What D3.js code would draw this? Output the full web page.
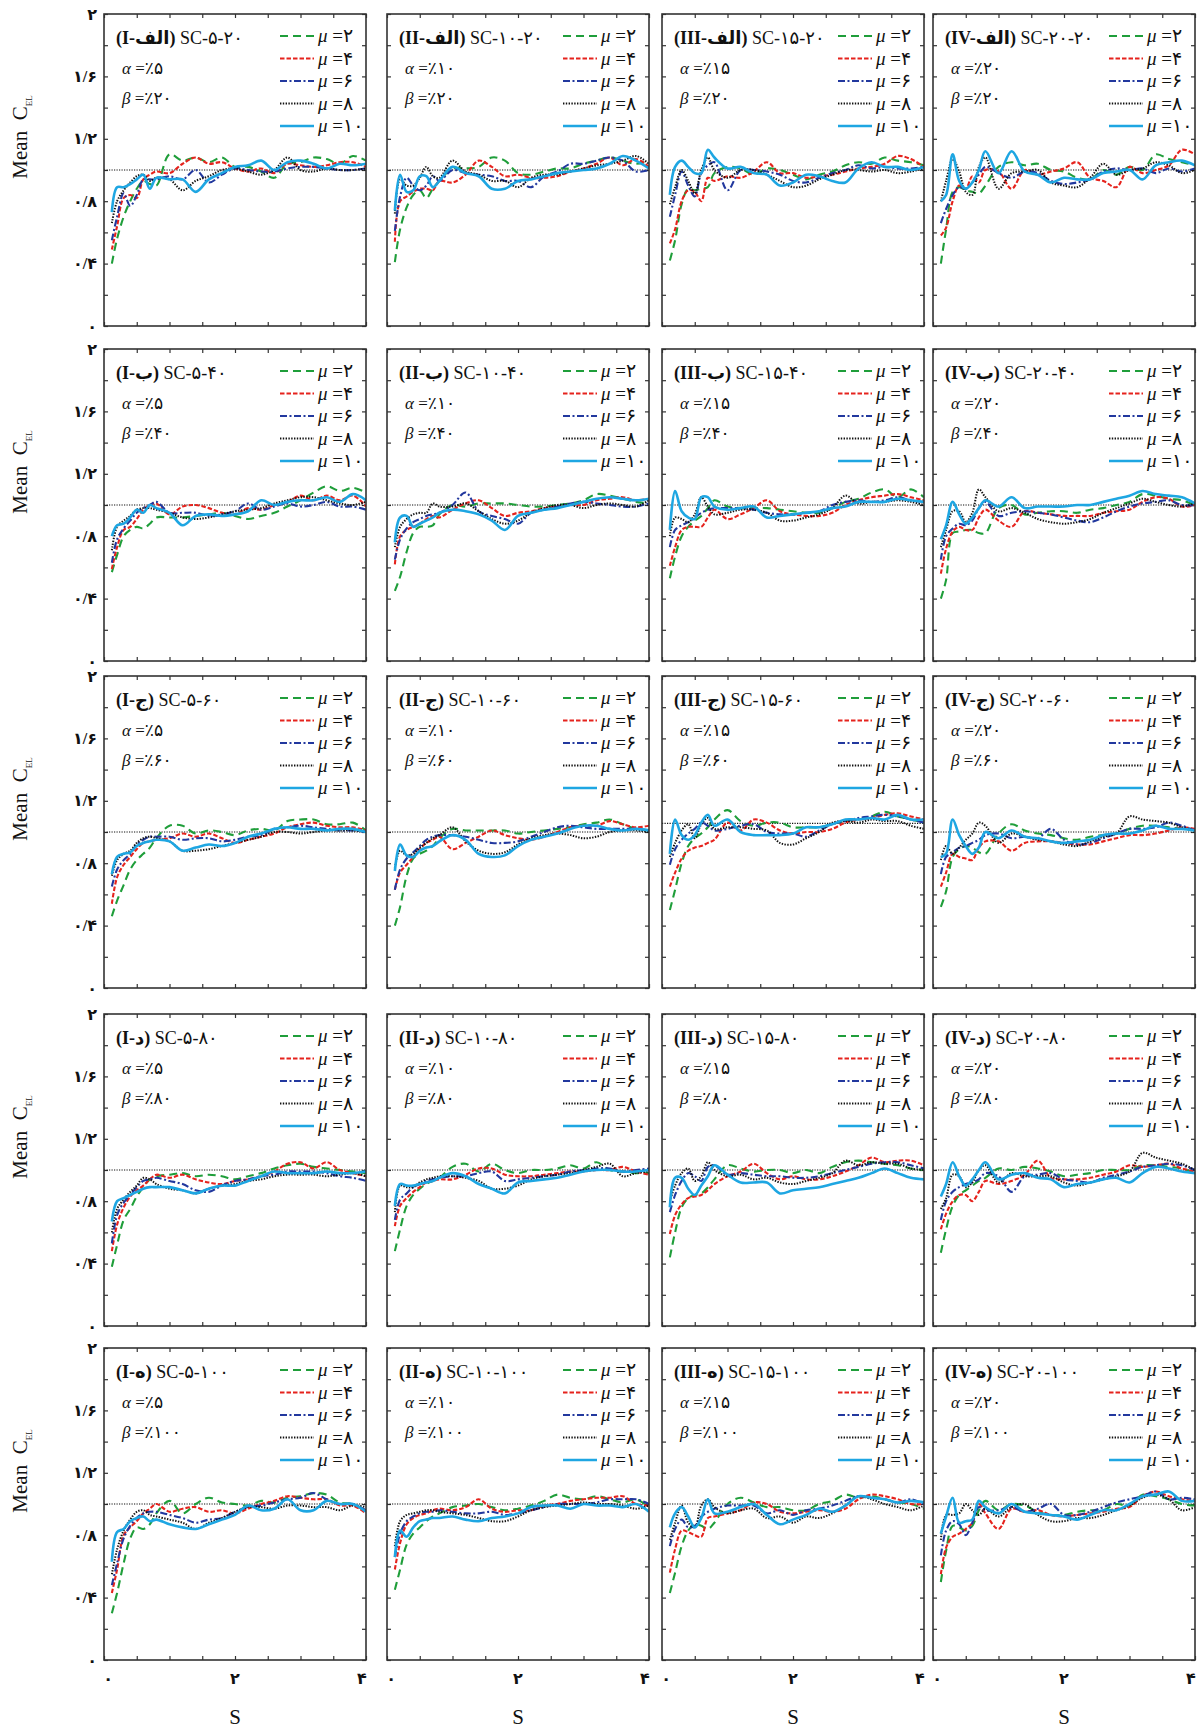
<!DOCTYPE html>
<html>
<head>
<meta charset="utf-8">
<script src="https://cdn.jsdelivr.net/npm/d3@7"></script>
<style>
  body { margin: 0; background: #fff; }
  svg text { font-family: 'Liberation Serif', 'DejaVu Sans', serif; fill: #111; }
</style>
</head>
<body>
<div id="chart"></div>
<script>
// x positions shared by every series (S)
var xs = [0.12,0.2,0.3,0.4,0.5,0.6,0.7,0.8,1.0,1.2,1.4,1.6,1.8,2.0,2.2,2.4,2.6,2.8,3.0,3.2,3.4,3.6,3.8,4.0];
var mus = [2, 4, 6, 8, 10];
var colNames = ['I', 'II', 'III', 'IV'];
var rowLetters = ['الف', 'ب', 'ج', 'د', 'ه'];
var alphas = [5, 10, 15, 20];
var betas = [20, 40, 60, 80, 100];
var yTickVals = [0, 0.4, 0.8, 1.2, 1.6, 2];
var yTickLabels = ['۰', '۰/۴', '۰/۸', '۱/۲', '۱/۶', '۲'];
var xTickVals = [0, 2, 4];
var xTickLabels = ['۰', '۲', '۴'];
// dotted reference level per panel (rows x cols)
var refLines = [[1,1,1,1],[1,1,1,1],[1,1,1.055,1],[1,1,1,1],[1,1,1,1]];

// each panel: [mu=2, mu=4, mu=6, mu=8, mu=10]
var SC_5_20 = [
  [0.40,0.56,0.70,0.80,0.88,0.93,0.91,0.90,1.10,1.06,1.08,1.05,1.08,1.02,1.02,0.99,0.95,1.04,1.05,1.08,1.07,1.04,1.09,1.06],
  [0.49,0.64,0.82,0.84,0.82,0.94,0.97,0.99,0.98,1.04,1.08,1.04,1.05,1.01,0.99,1.01,0.98,1.04,1.03,1.02,1.03,1.05,1.05,1.02],
  [0.55,0.70,0.85,0.77,0.84,0.94,0.94,0.94,0.96,0.94,1.00,0.92,0.97,1.01,1.00,0.99,0.99,1.01,1.02,1.02,1.01,1.00,1.00,1.01],
  [0.66,0.80,0.87,0.92,0.96,0.97,0.93,0.95,0.94,0.87,0.93,0.96,1.00,1.01,0.99,0.97,1.00,1.08,1.00,0.99,1.01,1.00,1.00,1.01],
  [0.73,0.89,0.89,0.91,0.94,0.97,0.88,0.95,0.94,0.94,0.86,0.94,0.98,1.02,1.03,1.06,1.00,1.05,1.06,1.04,1.01,1.04,1.03,1.04]];
var SC_10_20 = [
  [0.41,0.62,0.76,0.84,0.87,0.82,0.88,0.93,1.01,1.01,1.02,1.08,1.06,0.98,0.97,0.99,1.01,1.01,1.04,1.06,1.08,1.06,1.04,1.06],
  [0.54,0.80,0.83,0.86,0.88,0.88,0.87,0.93,0.92,0.97,1.06,1.02,0.96,0.97,0.95,0.95,0.96,0.99,1.01,1.04,1.08,1.03,1.07,1.02],
  [0.61,0.83,0.95,0.90,0.87,0.90,0.96,0.93,1.00,0.98,0.97,0.96,0.93,0.93,0.89,0.96,0.99,1.04,1.04,1.06,1.08,1.06,0.99,1.00],
  [0.72,0.94,0.90,0.90,0.95,1.02,0.96,0.95,1.06,0.99,0.97,0.93,0.93,0.89,0.95,0.97,0.97,0.99,1.01,1.03,1.04,1.06,1.09,1.04],
  [0.74,0.97,0.86,0.87,0.96,0.96,0.89,0.93,1.02,0.98,0.96,0.88,0.88,0.93,0.94,0.96,0.98,0.99,1.00,1.01,1.04,1.09,1.06,1.01]];
var SC_15_20 = [
  [0.42,0.55,0.78,0.88,0.87,0.88,0.89,0.98,1.02,1.01,0.97,1.01,1.00,0.97,0.94,0.97,0.99,1.03,1.05,1.04,1.08,1.06,1.05,1.03],
  [0.53,0.62,0.80,0.87,0.86,0.80,0.95,0.93,0.96,0.95,0.99,1.05,0.98,0.98,0.95,0.96,0.97,0.99,1.01,1.02,1.04,1.09,1.07,1.02],
  [0.70,0.84,0.99,0.90,0.83,0.98,1.03,1.05,0.87,1.00,1.00,0.99,0.97,0.93,0.92,0.95,0.98,1.00,1.03,1.01,1.02,1.01,1.01,1.02],
  [0.78,0.89,1.00,0.93,0.85,1.00,1.08,1.00,0.95,1.00,1.00,0.97,0.93,0.89,0.90,0.94,0.97,1.00,1.00,0.99,1.00,0.98,0.99,1.01],
  [0.84,1.02,1.06,1.02,0.98,0.98,1.13,1.08,1.01,1.02,0.98,0.97,0.90,0.92,0.97,0.96,0.93,0.92,1.01,1.05,1.02,1.02,1.00,1.02]];
var SC_20_20 = [
  [0.40,0.62,0.86,0.89,0.87,0.86,0.85,0.90,1.02,1.05,1.03,1.04,1.00,0.99,0.95,0.94,1.00,0.97,1.02,1.00,1.10,1.07,1.05,1.03],
  [0.58,0.63,0.80,0.90,0.88,0.96,0.92,1.00,0.99,0.88,1.00,0.97,0.99,1.01,1.05,0.95,0.93,0.89,1.02,0.98,1.00,1.03,1.13,1.10],
  [0.66,0.75,0.84,0.89,0.88,0.92,0.97,1.02,0.98,0.95,0.99,0.98,0.93,0.91,0.92,0.94,0.99,1.01,1.00,1.01,0.98,1.01,0.99,1.01],
  [0.80,0.93,1.07,0.99,0.86,0.84,1.02,1.08,0.88,0.98,0.99,1.00,0.92,0.90,0.89,0.95,1.04,0.97,1.00,1.01,1.05,1.03,0.98,1.00],
  [0.80,0.84,1.10,0.93,0.88,0.92,1.00,1.12,0.98,1.12,0.99,0.97,0.92,0.95,0.94,0.94,0.98,0.99,1.00,0.94,1.03,1.05,1.06,1.03]];

var SC_5_40 = [
  [0.57,0.68,0.80,0.84,0.86,0.85,0.88,0.92,0.92,0.92,0.93,0.94,0.95,0.93,0.91,0.93,0.95,0.99,1.03,1.08,1.12,1.09,1.11,1.08],
  [0.59,0.73,0.84,0.86,0.91,0.97,1.00,1.01,0.94,0.99,1.00,0.98,0.95,0.94,0.98,0.97,1.00,1.02,1.06,1.03,1.06,1.03,1.06,0.99],
  [0.63,0.78,0.85,0.90,0.95,0.98,1.00,1.02,0.95,0.95,0.95,0.93,0.94,0.96,1.01,0.97,0.99,1.01,0.99,1.00,1.02,0.99,0.99,0.97],
  [0.71,0.86,0.90,0.93,0.97,0.98,0.98,0.97,0.95,0.92,0.91,0.92,0.94,0.96,0.97,0.98,1.01,1.03,1.05,1.05,1.03,1.01,1.00,1.02],
  [0.80,0.87,0.88,0.92,0.97,0.95,1.00,0.98,0.95,0.87,0.93,0.94,0.93,0.94,0.96,1.03,1.00,1.02,1.03,1.03,1.05,1.02,1.07,1.03]];
var SC_10_40 = [
  [0.45,0.54,0.70,0.82,0.86,0.86,0.87,0.94,1.00,0.99,1.01,1.01,1.01,1.00,0.99,0.99,1.00,1.01,1.03,1.07,1.06,1.04,1.02,1.01],
  [0.62,0.80,0.84,0.86,0.88,0.91,0.93,0.92,0.97,1.01,1.03,0.98,0.93,0.95,0.96,0.98,0.99,1.00,1.00,1.03,1.04,1.05,1.03,1.04],
  [0.65,0.78,0.85,0.89,0.91,0.93,0.94,0.95,1.00,1.08,0.96,0.93,0.91,0.88,0.95,0.97,0.99,1.01,1.02,1.01,1.00,0.99,0.99,1.01],
  [0.73,0.86,0.91,0.94,0.95,0.95,1.01,0.99,0.99,1.01,0.96,0.91,0.88,0.90,0.95,0.98,1.00,1.00,0.98,1.00,1.01,1.00,0.99,1.03],
  [0.76,0.92,0.93,0.86,0.88,0.90,0.92,0.95,0.97,0.96,0.94,0.90,0.84,0.93,0.95,0.97,0.98,1.00,1.02,1.04,1.05,1.04,1.03,1.04]];
var SC_15_40 = [
  [0.53,0.67,0.80,0.86,0.90,0.93,0.98,1.03,0.99,0.98,0.98,0.98,0.97,0.96,0.95,0.95,0.98,1.02,1.04,1.08,1.10,1.05,1.10,1.05],
  [0.61,0.73,0.84,0.86,0.86,0.86,0.92,0.97,0.91,0.94,0.98,1.03,0.96,0.94,0.93,0.93,0.95,1.00,1.03,1.05,1.06,1.07,1.05,1.03],
  [0.73,0.84,0.87,0.89,0.92,0.95,0.97,0.98,0.98,0.98,0.97,0.95,0.94,0.94,0.95,0.96,1.00,1.02,1.03,1.02,1.03,1.05,1.03,1.02],
  [0.80,0.92,0.91,0.89,0.94,1.05,0.99,0.94,0.95,0.97,0.97,0.95,0.90,0.90,0.92,0.94,0.98,1.06,1.01,1.02,1.02,1.03,1.02,1.00],
  [0.84,1.09,0.96,0.92,0.91,1.05,1.05,0.99,0.97,0.98,0.99,0.92,0.93,0.94,0.95,0.96,0.98,0.99,1.02,1.02,1.02,1.04,1.03,1.02]];
var SC_20_40 = [
  [0.40,0.52,0.82,0.83,0.84,0.84,0.82,0.82,0.98,1.00,0.94,0.95,0.96,0.96,0.95,0.97,0.98,1.00,1.02,1.07,1.06,1.04,1.03,1.00],
  [0.56,0.72,0.83,0.86,0.84,0.84,0.92,0.97,0.90,0.86,0.96,0.95,0.94,0.93,0.93,0.93,0.95,0.96,0.97,1.02,1.05,1.04,0.99,1.00],
  [0.65,0.80,0.85,0.88,0.87,0.90,0.98,1.02,0.93,0.95,0.96,0.95,0.94,0.92,0.90,0.89,0.92,0.96,0.99,1.01,1.02,1.03,1.00,1.00],
  [0.73,0.84,0.96,0.96,0.89,0.95,1.10,1.05,0.96,0.98,0.95,0.91,0.89,0.88,0.89,0.91,0.95,0.98,1.01,1.04,1.02,1.00,0.99,1.01],
  [0.78,0.87,1.02,0.94,0.88,0.92,0.98,1.03,0.99,1.05,0.98,0.99,0.99,0.99,1.00,1.00,1.02,1.04,1.06,1.09,1.07,1.06,1.05,1.01]];

var SC_5_60 = [
  [0.46,0.56,0.66,0.76,0.82,0.86,0.90,0.96,1.04,1.04,0.99,1.01,1.00,0.98,1.01,1.02,1.01,1.07,1.08,1.08,1.05,1.05,1.06,1.01],
  [0.54,0.71,0.79,0.84,0.89,0.93,0.94,0.95,0.96,0.99,0.97,0.99,0.96,0.93,0.95,0.97,0.99,1.03,1.05,1.06,1.04,1.03,1.03,1.01],
  [0.65,0.76,0.82,0.86,0.92,0.95,0.97,0.97,0.97,0.95,0.96,0.96,0.94,0.95,0.97,0.98,1.02,1.03,1.04,1.03,1.02,1.01,1.01,1.00],
  [0.72,0.82,0.86,0.88,0.93,0.96,0.97,0.96,0.94,0.88,0.88,0.89,0.91,0.93,0.95,0.97,1.00,1.00,0.99,1.00,1.01,1.01,1.01,1.00],
  [0.73,0.84,0.86,0.87,0.91,0.93,0.94,0.95,0.94,0.88,0.90,0.92,0.91,0.93,0.97,0.99,1.02,1.03,1.02,1.02,1.01,1.02,1.02,1.00]];
var SC_10_60 = [
  [0.40,0.52,0.72,0.83,0.86,0.88,0.91,0.96,1.02,1.01,1.01,1.01,1.01,0.99,1.00,1.01,1.02,1.03,1.05,1.06,1.08,1.05,1.02,1.01],
  [0.63,0.74,0.79,0.84,0.89,0.93,0.95,0.97,0.89,0.93,0.97,1.01,0.98,0.96,0.95,0.97,1.00,1.03,1.04,1.04,1.07,1.05,1.03,1.04],
  [0.63,0.76,0.83,0.87,0.91,0.95,0.97,0.98,0.98,0.97,0.95,0.93,0.93,0.94,0.97,1.00,1.03,1.04,1.03,1.02,1.02,1.02,1.02,1.01],
  [0.77,0.88,0.85,0.86,0.90,0.93,0.96,0.98,1.03,0.94,0.88,0.86,0.87,0.92,0.96,0.98,0.99,0.98,0.96,0.97,1.00,1.01,1.01,1.00],
  [0.75,0.92,0.85,0.84,0.88,0.90,0.91,0.94,0.98,0.95,0.86,0.84,0.85,0.91,0.95,0.97,0.99,1.02,1.04,1.04,1.02,1.01,1.02,1.01]];
var SC_15_60 = [
  [0.50,0.63,0.80,0.91,0.96,0.99,1.03,1.08,1.14,1.07,1.04,1.06,1.06,1.03,1.03,1.03,1.05,1.07,1.08,1.10,1.13,1.10,1.08,1.06],
  [0.65,0.74,0.83,0.88,0.90,0.91,0.93,0.95,1.06,1.01,1.08,1.06,1.01,0.99,1.00,1.00,1.02,1.06,1.08,1.09,1.11,1.12,1.10,1.08],
  [0.79,0.89,0.95,0.99,1.02,1.06,1.04,1.01,1.02,1.04,1.05,1.00,0.99,0.99,0.97,1.01,1.05,1.07,1.09,1.10,1.11,1.10,1.08,1.06],
  [0.84,0.93,1.01,1.05,0.96,1.05,1.09,1.02,1.03,1.03,1.02,1.01,0.93,0.92,0.96,1.00,1.06,1.07,1.06,1.08,1.07,1.07,1.04,1.02],
  [0.86,1.08,0.98,0.95,0.98,1.06,1.11,1.04,1.08,1.00,0.98,0.98,0.98,0.99,1.03,1.03,1.05,1.08,1.08,1.09,1.08,1.11,1.08,1.08]];
var SC_20_60 = [
  [0.52,0.62,0.84,0.89,0.91,0.90,0.87,0.86,0.99,1.05,1.01,0.99,0.98,0.96,0.95,0.97,0.98,0.99,1.02,1.04,1.04,1.03,1.02,1.01],
  [0.65,0.74,0.86,0.84,0.83,0.82,0.90,0.94,0.94,0.88,0.93,0.94,0.94,0.93,0.92,0.92,0.94,0.96,0.98,0.98,0.99,1.01,1.03,1.02],
  [0.73,0.84,0.87,0.90,0.91,0.93,0.95,0.98,0.99,0.96,0.97,0.96,1.02,0.95,0.92,0.93,0.96,0.99,1.02,1.02,1.03,1.06,1.04,1.01],
  [0.82,0.91,0.86,0.90,0.95,0.99,1.06,1.04,0.93,0.99,0.97,0.95,0.94,0.92,0.91,0.94,0.97,0.99,1.10,1.08,1.07,1.06,1.03,1.01],
  [0.84,0.86,1.08,0.98,0.91,0.86,0.90,1.00,0.96,1.01,0.97,0.96,0.94,0.93,0.94,0.95,0.98,0.99,0.99,1.01,1.04,1.02,1.02,1.01]];

var SC_5_80 = [
  [0.38,0.52,0.68,0.75,0.83,0.89,0.94,0.96,0.97,0.98,0.96,0.97,0.96,0.94,0.96,0.98,1.01,1.03,1.04,1.02,1.01,1.00,0.99,0.98],
  [0.48,0.65,0.76,0.83,0.87,0.90,0.94,0.97,0.95,0.97,0.94,0.92,0.91,0.93,0.94,0.96,0.99,1.04,1.05,1.01,1.05,1.00,0.98,0.96],
  [0.53,0.71,0.79,0.84,0.89,0.93,0.94,0.95,0.93,0.91,0.87,0.86,0.90,0.93,0.94,0.96,0.97,0.99,0.99,0.99,0.98,0.96,0.95,0.93],
  [0.60,0.75,0.81,0.86,0.90,0.95,0.94,0.91,0.88,0.87,0.85,0.88,0.90,0.91,0.93,0.94,0.96,0.97,0.97,0.97,0.96,0.97,0.98,0.96],
  [0.67,0.80,0.82,0.84,0.86,0.88,0.89,0.89,0.89,0.87,0.85,0.88,0.90,0.90,0.93,0.96,0.99,0.98,0.98,0.98,0.99,0.98,0.98,0.99]];
var SC_10_80 = [
  [0.48,0.62,0.77,0.84,0.88,0.91,0.93,0.95,1.02,1.04,0.99,1.04,1.00,0.98,1.00,1.00,1.01,1.03,1.01,1.05,1.00,0.99,0.98,0.98],
  [0.64,0.77,0.82,0.86,0.89,0.92,0.93,0.94,0.94,0.97,1.01,1.01,0.97,0.96,0.96,0.97,0.98,0.99,0.99,1.00,1.00,1.02,0.99,0.97],
  [0.68,0.81,0.85,0.89,0.91,0.93,0.94,0.95,0.96,0.96,0.98,0.99,0.93,0.94,0.95,0.96,0.97,0.99,1.00,1.01,1.01,0.99,1.00,1.01],
  [0.73,0.90,0.89,0.89,0.92,0.94,0.95,0.96,0.96,0.95,0.93,0.88,0.88,0.90,0.94,0.96,0.97,0.98,1.00,1.02,1.04,0.96,0.98,0.99],
  [0.77,0.91,0.90,0.90,0.91,0.92,0.93,0.95,0.98,0.96,0.91,0.88,0.85,0.92,0.93,0.94,0.95,0.97,0.99,1.00,1.00,0.99,0.99,1.00]];
var SC_15_80 = [
  [0.44,0.60,0.76,0.82,0.84,0.85,0.89,0.94,1.03,1.01,0.99,1.00,1.00,0.98,1.00,0.98,1.02,1.05,1.06,1.05,1.04,1.03,1.01,1.00],
  [0.59,0.71,0.78,0.82,0.83,0.84,0.87,0.91,0.96,0.99,1.04,0.98,0.94,0.96,0.94,0.94,0.96,0.99,1.03,1.08,1.05,1.06,1.06,1.03],
  [0.73,0.84,0.93,0.98,0.96,0.93,1.02,1.03,0.97,0.98,0.97,0.96,0.96,0.95,0.95,0.96,0.98,1.00,1.02,1.04,1.05,1.05,1.03,1.01],
  [0.80,0.90,0.98,1.01,0.93,0.96,1.05,1.00,0.96,0.97,0.94,0.95,0.92,0.91,0.93,0.95,0.98,1.06,1.03,1.05,1.04,1.04,1.01,1.00],
  [0.76,0.95,0.95,0.88,0.84,0.90,0.96,1.03,0.97,0.92,0.92,0.92,0.85,0.87,0.88,0.89,0.91,0.93,0.95,0.98,1.01,0.98,0.95,0.94]];
var SC_20_80 = [
  [0.47,0.62,0.77,0.84,0.87,0.90,0.93,0.95,1.01,1.00,1.02,1.01,0.99,0.96,0.97,0.98,1.00,1.00,1.00,1.03,1.03,1.02,1.01,0.98],
  [0.62,0.72,0.80,0.84,0.84,0.80,0.86,0.93,0.91,0.93,0.97,1.06,0.95,0.94,0.94,0.95,0.97,0.99,1.03,1.02,1.03,1.04,1.01,0.99],
  [0.68,0.80,0.86,0.89,0.91,0.92,0.94,0.98,0.96,0.86,0.96,0.97,0.98,0.94,0.93,0.92,0.95,0.97,0.99,1.02,1.03,1.04,1.03,1.00],
  [0.75,0.82,0.97,0.96,0.89,0.92,1.00,1.03,0.92,0.98,0.96,0.96,0.96,0.92,0.90,0.92,0.94,0.96,0.99,1.11,1.08,1.06,1.04,1.00],
  [0.83,0.91,1.05,0.96,0.90,0.94,1.00,1.05,0.94,0.97,0.98,0.95,0.94,0.89,0.91,0.92,0.94,0.95,0.92,0.98,1.02,1.01,0.99,0.98]];

var SC_5_100 = [
  [0.30,0.43,0.62,0.78,0.85,0.84,0.87,0.94,1.02,0.94,1.00,1.04,1.01,1.00,0.99,1.02,1.01,1.04,1.05,1.07,1.06,1.01,1.00,0.95],
  [0.43,0.58,0.80,0.85,0.89,0.94,0.97,1.00,0.95,0.97,0.98,0.95,0.96,0.94,0.97,1.00,1.02,1.05,1.04,1.03,1.03,0.99,0.99,0.94],
  [0.48,0.62,0.78,0.86,0.91,0.94,0.95,0.95,0.93,0.91,0.88,0.90,0.91,0.95,0.98,0.99,1.01,1.03,1.04,1.07,1.03,1.00,1.00,0.96],
  [0.55,0.71,0.83,0.90,0.95,0.96,0.93,0.92,0.90,0.88,0.84,0.88,0.91,0.95,0.98,0.98,0.97,0.99,0.99,0.98,0.98,0.96,0.99,0.98],
  [0.63,0.82,0.84,0.89,0.91,0.92,0.89,0.90,0.87,0.85,0.84,0.87,0.90,0.93,0.99,0.96,0.97,1.03,0.96,0.96,1.02,1.00,1.00,0.95]];
var SC_10_100 = [
  [0.45,0.58,0.74,0.81,0.85,0.89,0.92,0.94,0.98,0.99,1.00,0.98,0.96,0.97,0.99,1.02,1.06,1.04,1.03,1.05,1.03,1.01,1.03,0.98],
  [0.58,0.75,0.87,0.91,0.93,0.94,0.96,0.97,0.96,0.98,1.03,0.97,0.95,0.96,0.96,0.99,1.00,1.02,1.03,1.04,1.04,1.05,1.00,0.99],
  [0.66,0.81,0.89,0.92,0.94,0.95,0.95,0.96,0.95,0.94,0.94,0.95,0.93,0.94,0.96,0.98,1.00,1.00,1.00,1.01,1.03,1.03,1.03,1.00],
  [0.73,0.89,0.93,0.94,0.95,0.96,0.96,0.95,0.94,0.93,0.91,0.89,0.89,0.92,0.96,0.98,0.99,1.00,1.01,1.00,1.00,0.99,0.97,0.99],
  [0.66,0.83,0.79,0.85,0.89,0.90,0.91,0.91,0.92,0.90,0.89,0.91,0.92,0.94,0.98,0.99,0.99,0.97,1.00,0.99,0.99,0.98,1.00,0.95]];
var SC_15_100 = [
  [0.43,0.56,0.73,0.83,0.87,0.86,0.84,0.88,1.00,1.04,1.01,0.98,0.98,0.96,0.96,1.00,1.02,1.06,1.04,1.05,1.03,1.01,1.00,0.97],
  [0.56,0.71,0.83,0.82,0.80,0.79,0.91,0.92,0.94,0.96,1.01,1.00,0.95,0.94,0.95,0.96,0.95,0.97,1.03,1.06,1.05,1.03,1.00,1.00],
  [0.73,0.84,0.90,0.85,0.86,0.92,0.95,0.97,0.99,0.99,0.99,0.94,0.96,0.93,0.96,0.97,0.99,1.02,1.05,1.04,1.03,1.01,1.03,1.00],
  [0.77,0.88,0.99,0.88,0.85,0.99,1.03,0.98,0.94,0.96,0.97,0.91,0.92,0.88,0.92,0.91,0.94,0.99,1.05,1.03,1.00,0.98,0.96,0.99],
  [0.85,0.94,0.98,0.92,0.85,0.91,1.03,0.94,0.95,0.98,1.00,0.93,0.87,0.90,0.93,0.97,0.95,0.99,1.05,1.04,1.03,1.01,1.02,1.01]];
var SC_20_100 = [
  [0.50,0.70,0.86,0.85,0.83,0.86,0.96,1.02,0.96,1.00,0.99,0.95,0.93,0.93,0.95,0.96,0.96,1.00,0.99,1.06,1.05,1.03,1.00,0.99],
  [0.55,0.72,0.79,0.81,0.84,0.88,1.00,0.94,0.84,0.97,0.95,0.96,0.93,0.92,0.93,0.94,0.95,0.97,0.98,1.05,1.08,1.05,1.03,1.02],
  [0.67,0.83,0.89,0.87,0.80,0.88,0.98,0.96,0.96,0.98,0.95,0.97,1.00,0.93,0.93,0.95,0.98,1.01,1.03,1.05,1.08,1.03,1.04,1.03],
  [0.77,0.93,0.93,0.94,1.00,0.96,0.93,0.97,0.92,0.98,1.00,0.93,0.89,0.89,0.91,0.91,0.93,0.96,0.99,1.04,1.06,1.03,0.96,0.98],
  [0.81,0.92,1.04,0.88,0.89,0.90,1.02,0.98,0.94,1.00,0.95,0.94,0.93,0.92,0.90,0.93,0.96,0.96,1.00,1.05,1.06,1.08,1.02,1.02]];

var panelData = [
  [SC_5_20, SC_10_20, SC_15_20, SC_20_20],
  [SC_5_40, SC_10_40, SC_15_40, SC_20_40],
  [SC_5_60, SC_10_60, SC_15_60, SC_20_60],
  [SC_5_80, SC_10_80, SC_15_80, SC_20_80],
  [SC_5_100, SC_10_100, SC_15_100, SC_20_100]];

// line styles for mu = 2, 4, 6, 8, 10
var lineStyles = [
  {color: '#1f9e3a', dash: '8,5', width: 2.1},
  {color: '#e5231d', dash: '4.5,2', width: 2.1},
  {color: '#22389e', dash: '7,2.5,2,2.5', width: 2.1},
  {color: '#111111', dash: '1.4,1.4', width: 2.0},
  {color: '#1ea6e2', dash: null, width: 2.6}];

function fa(n) {
  return String(n).replace(/[0-9]/g, function(c){ return '۰۱۲۳۴۵۶۷۸۹'[+c]; });
}

function drawChart() {
  var W = 1198, H = 1728;
  var colLeft = [104, 387, 662, 933];
  var rowTop = [14, 349, 676, 1014, 1348];
  var pw = 262, ph = 312;

  var svg = d3.select('#chart').append('svg')
    .attr('width', W).attr('height', H);

  var x = d3.scaleLinear().domain([0, 4]).range([0, pw]);
  var y = d3.scaleLinear().domain([0, 2]).range([ph, 0]);
  var line = d3.line()
    .x(function(d){ return x(d[0]); })
    .y(function(d){ return y(d[1]); })
    .curve(d3.curveCatmullRom.alpha(0.5));

  var xTicks = d3.range(0, 4.001, 0.5);
  var yTicks = d3.range(0, 2.001, 0.2);

  svg.append('defs').append('clipPath').attr('id', 'clip')
    .append('rect').attr('width', pw).attr('height', ph);

  var r, c, k;
  for (r = 0; r < rowTop.length; r++) {
    // y axis title
    var yt = svg.append('text')
      .attr('transform', 'translate(27,' + (rowTop[r] + 123) + ') rotate(-90)')
      .attr('text-anchor', 'middle')
      .style('font-size', '21px');
    yt.append('tspan').text('Mean\u00a0\u00a0C');
    yt.append('tspan').attr('dy', 5).style('font-size', '9px').text('EL');

    for (c = 0; c < colLeft.length; c++) {
      var g = svg.append('g')
        .attr('transform', 'translate(' + colLeft[c] + ',' + rowTop[r] + ')');

      // inward ticks on all four sides
      g.append('g').attr('transform', 'translate(0,' + ph + ')')
        .call(d3.axisBottom(x).tickValues(xTicks).tickSize(-4).tickFormat(''));
      g.append('g')
        .call(d3.axisTop(x).tickValues(xTicks).tickSize(-4).tickFormat(''));
      g.append('g')
        .call(d3.axisLeft(y).tickValues(yTicks).tickSize(-4).tickFormat(''));
      g.append('g').attr('transform', 'translate(' + pw + ',0)')
        .call(d3.axisRight(y).tickValues(yTicks).tickSize(-4).tickFormat(''));
      g.selectAll('.domain').remove();
      g.selectAll('.tick line').attr('stroke', '#333').attr('stroke-width', 1.2);

      // reference level
      g.append('line')
        .attr('x1', 0).attr('x2', pw)
        .attr('y1', y(refLines[r][c])).attr('y2', y(refLines[r][c]))
        .attr('stroke', '#111').attr('stroke-width', 1.2)
        .attr('stroke-dasharray', '1.2,1.3');

      var series = panelData[r][c];
      var plot = g.append('g').attr('clip-path', 'url(#clip)');
      for (k = 0; k < series.length; k++) {
        var pts = series[k].map(function(v, i){ return [xs[i], v]; });
        plot.append('path')
          .attr('d', line(pts))
          .attr('fill', 'none')
          .attr('stroke', lineStyles[k].color)
          .attr('stroke-width', lineStyles[k].width)
          .attr('stroke-dasharray', lineStyles[k].dash);
      }

      // frame
      g.append('rect')
        .attr('width', pw).attr('height', ph)
        .attr('fill', 'none').attr('stroke', '#333').attr('stroke-width', 1.6);

      // title
      var t = g.append('text').attr('x', 12).attr('y', 30).style('font-size', '18px');
      t.append('tspan').style('font-weight', 'bold').text('(' + colNames[c] + '-' + rowLetters[r] + ')');
      t.append('tspan').text(' SC-' + fa(alphas[c]) + '-' + fa(betas[r]));

      // alpha / beta
      var ta = g.append('text').attr('x', 18).attr('y', 60).style('font-size', '17px');
      ta.append('tspan').style('font-style', 'italic').text('α');
      ta.append('tspan').text(' =٪' + fa(alphas[c]));
      var tb = g.append('text').attr('x', 18).attr('y', 90).style('font-size', '17px');
      tb.append('tspan').style('font-style', 'italic').text('β');
      tb.append('tspan').text(' =٪' + fa(betas[r]));

      // legend
      for (k = 0; k < mus.length; k++) {
        var ly = 22 + k * 22.5;
        g.append('line')
          .attr('x1', 176).attr('x2', 210).attr('y1', ly).attr('y2', ly)
          .attr('stroke', lineStyles[k].color)
          .attr('stroke-width', lineStyles[k].width)
          .attr('stroke-dasharray', lineStyles[k].dash);
        var lt = g.append('text').attr('x', 214).attr('y', ly + 6).style('font-size', '19px');
        lt.append('tspan').style('font-style', 'italic').text('μ');
        lt.append('tspan').text(' =' + fa(mus[k]));
      }

      // y tick labels in first column
      if (c === 0) {
        g.selectAll('.ylab').data(yTickVals).enter().append('text')
          .attr('x', -7).attr('y', function(d){ return y(d); })
          .attr('dy', '0.35em')
          .attr('text-anchor', 'end')
          .style('font-size', '16px').style('font-weight', 'bold')
          .text(function(d, i){ return yTickLabels[i]; });
      }
      // x tick labels and title under the last row
      if (r === rowTop.length - 1) {
        g.selectAll('.xlab').data(xTickVals).enter().append('text')
          .attr('x', function(d){ return x(d) + (d === 0 ? 4 : d === 4 ? -4 : 0); })
          .attr('y', ph + 24)
          .attr('text-anchor', 'middle')
          .style('font-size', '16px').style('font-weight', 'bold')
          .text(function(d, i){ return xTickLabels[i]; });
        g.append('text')
          .attr('x', pw / 2).attr('y', ph + 64)
          .attr('text-anchor', 'middle')
          .style('font-size', '21px')
          .text('S');
      }
    }
  }
}

drawChart();
</script>
</body>
</html>
